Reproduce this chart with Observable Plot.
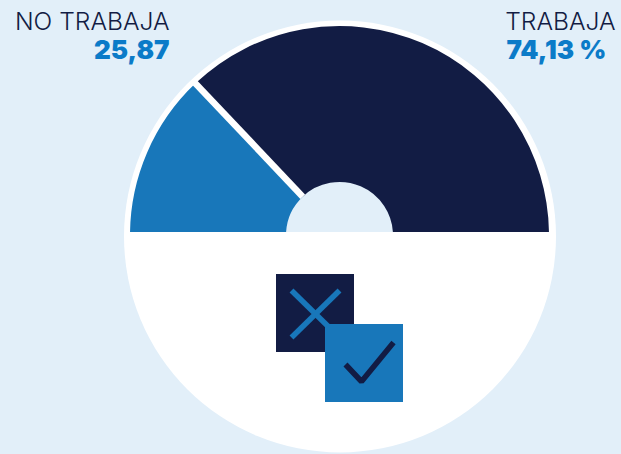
<!DOCTYPE html>
<html lang="es">
<head>
<meta charset="utf-8">
<script src="https://cdn.jsdelivr.net/npm/d3@7"></script>
<script src="https://cdn.jsdelivr.net/npm/@observablehq/plot@0.6"></script>
<style>
html,body{margin:0;padding:0;background:#E2EFF9;overflow:hidden}
</style>
</head>
<body>
<div id="chart"></div>
<script>
const categories = ["NO TRABAJA", "TRABAJA"];
const shares = [25.87, 74.13];
const valueLabels = ["25,87", "74,13 %"];

const navy = "#121C44", blue = "#1877BA", bg = "#E2EFF9", accent = "#0B7BC8";
const sliceColors = [blue, navy];
const cx = 339.5, cy = 235.5, cut = 232, R = 209.5, r0 = 53.5;

const total = d3.sum(shares);
const split = -Math.PI / 2 + Math.PI * shares[0] / total;
const slices = [
  {a0: -Math.PI / 2, a1: split, color: sliceColors[0]},
  {a0: split, a1: Math.PI / 2, color: sliceColors[1]}
];

function gauge(index, scales) {
  const g = d3.create("svg:g");
  const id = "half-clip";
  g.append("clipPath").attr("id", id).append("rect")
    .attr("x", 0).attr("y", 0).attr("width", 621).attr("height", scales.y(cut));
  const clipped = g.append("g").attr("clip-path", `url(#${id})`);
  const t = clipped.append("g").attr("transform", `translate(${scales.x(cx)},${scales.y(cy)})`);
  t.append("circle").attr("r", r0 + 1).attr("fill", bg);
  const arc = d3.arc().innerRadius(r0).outerRadius(R);
  t.selectAll("path").data(slices).join("path")
    .attr("d", d => arc({startAngle: d.a0, endAngle: d.a1}))
    .attr("fill", d => d.color);
  t.append("line")
    .attr("x1", r0 * Math.sin(split)).attr("y1", -r0 * Math.cos(split))
    .attr("x2", (R + 2) * Math.sin(split)).attr("y2", -(R + 2) * Math.cos(split))
    .attr("stroke", "#fff").attr("stroke-width", 6.5);
  return g.node();
}

const xLines = [
  {k: "a", x: 291, y: 290}, {k: "a", x: 339, y: 337},
  {k: "b", x: 339, y: 290}, {k: "b", x: 291, y: 337}
];
const checkLine = [{x: 345, y: 364}, {x: 361, y: 381}, {x: 393, y: 342}];

const chart = Plot.plot({
  width: 621, height: 454,
  margin: 0,
  x: {domain: [0, 621], range: [0, 621], axis: null},
  y: {domain: [0, 454], range: [0, 454], axis: null},
  style: {background: bg},
  marks: [
    Plot.dot([{x: cx, y: 236}], {x: "x", y: "y", r: 216, fill: "#fff"}),
    gauge,
    Plot.rect([{x1: 276, x2: 354, y1: 274, y2: 352}], {x1: "x1", x2: "x2", y1: "y1", y2: "y2", fill: navy}),
    Plot.line(xLines, {x: "x", y: "y", z: "k", stroke: blue, strokeWidth: 5.5, strokeLinecap: "butt"}),
    Plot.rect([{x1: 325, x2: 403, y1: 324, y2: 402}], {x1: "x1", x2: "x2", y1: "y1", y2: "y2", fill: blue}),
    Plot.line(checkLine, {x: "x", y: "y", stroke: navy, strokeWidth: 5.5, strokeLinejoin: "miter", strokeLinecap: "butt"}),
    Plot.text([categories[0]], {x: () => 169, y: () => 21.5, text: d => d, textAnchor: "end", fill: navy, fontSize: 24.6, fontWeight: 300, fontFamily: "Inter"}),
    Plot.text([valueLabels[0]], {x: () => 169, y: () => 50.5, text: d => d, textAnchor: "end", fill: accent, fontSize: 26, fontWeight: 900, fontFamily: "Inter"}),
    Plot.text([categories[1]], {x: () => 615, y: () => 21.5, text: d => d, textAnchor: "end", fill: navy, fontSize: 24.6, fontWeight: 300, fontFamily: "Inter"}),
    Plot.text([valueLabels[1]], {x: () => 606, y: () => 50.5, text: d => d, textAnchor: "end", fill: accent, fontSize: 26, fontWeight: 900, fontFamily: "Inter"})
  ]
});
document.getElementById("chart").append(chart);
</script>
</body>
</html>
